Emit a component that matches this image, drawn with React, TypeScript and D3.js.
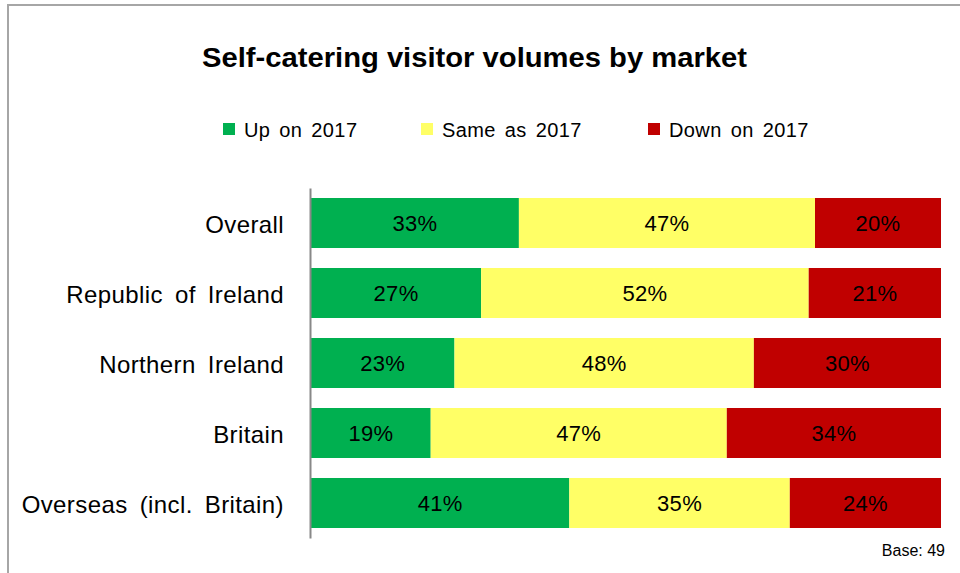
import React, { useRef, useEffect } from 'react';
import * as d3 from 'd3';

const categories = ['Overall', 'Republic of Ireland', 'Northern Ireland', 'Britain', 'Overseas (incl. Britain)'];
const seriesNames = ['Up on 2017', 'Same as 2017', 'Down on 2017'];
const upValues = [33, 27, 23, 19, 41];
const sameValues = [47, 52, 48, 47, 35];
const downValues = [20, 21, 30, 34, 24];
const colors = ['#00B050', '#FFFF66', '#C00000'];

const W = 960;
const H = 573;
const font = '"Liberation Sans", Arial, sans-serif';

const App = () => {
  const ref = useRef<SVGSVGElement>(null);

  useEffect(() => {
    const svg = d3.select(ref.current);
    svg.selectAll('*').remove();

    const keys = ['up', 'same', 'down'];
    const rows = categories.map((c, i) => ({ cat: c, up: upValues[i], same: sameValues[i], down: downValues[i] }));
    const stacked = d3.stack<any>().keys(keys).offset(d3.stackOffsetExpand)(rows);

    const x = d3.scaleLinear().domain([0, 1]).range([311, 941]);
    const y = d3.scaleBand().domain(categories).range([188, 538]).paddingInner(0.2857).paddingOuter(0.1429);

    // frame
    svg.append('rect')
      .attr('x', 8).attr('y', 5).attr('width', W + 20).attr('height', H + 20)
      .attr('fill', '#fff').attr('stroke', '#a6a6a6').attr('stroke-width', 2);

    svg.append('text')
      .attr('x', 202).attr('y', 67)
      .attr('font-family', font).attr('font-weight', 'bold').attr('font-size', 28)
      .attr('textLength', 545).attr('lengthAdjust', 'spacingAndGlyphs')
      .text('Self-catering visitor volumes by market');

    // legend
    const legendX = [223, 421, 648];
    seriesNames.forEach((name, i) => {
      svg.append('rect')
        .attr('x', legendX[i]).attr('y', 123).attr('width', 12).attr('height', 12)
        .attr('fill', colors[i]);
      svg.append('text')
        .attr('x', legendX[i] + 21).attr('y', 137)
        .attr('font-family', font).attr('font-size', 20)
        .attr('word-spacing', 3).attr('letter-spacing', 0.4)
        .text(name);
    });

    const groups = svg.selectAll('g.series')
      .data(stacked)
      .enter().append('g')
      .attr('fill', (d, i) => colors[i]);

    groups.selectAll('rect')
      .data(d => d)
      .enter().append('rect')
      .attr('x', d => x(d[0]))
      .attr('y', d => y(d.data.cat)!)
      .attr('width', d => x(d[1]) - x(d[0]))
      .attr('height', y.bandwidth());

    stacked.forEach((s) => {
      svg.selectAll(null)
        .data(s)
        .enter().append('text')
        .attr('x', d => (x(d[0]) + x(d[1])) / 2)
        .attr('y', d => y(d.data.cat)! + y.bandwidth() / 2)
        .attr('dy', '0.38em')
        .attr('text-anchor', 'middle')
        .attr('font-family', font).attr('font-size', 22)
        .attr('letter-spacing', 0.3)
        .attr('fill', '#000')
        .text(d => `${d.data[s.key]}%`);
    });

    // category axis
    const axis = svg.append('g')
      .attr('transform', 'translate(310,0)')
      .call(d3.axisLeft(y).tickSize(0).tickPadding(26));
    axis.select('.domain').attr('stroke', '#888').attr('stroke-width', 2);
    axis.selectAll('text')
      .attr('font-family', font).attr('font-size', 24).attr('fill', '#000')
      .attr('word-spacing', 5).attr('letter-spacing', 0.4).attr('dy', '0.4em');

    svg.append('text')
      .attr('x', 945).attr('y', 556)
      .attr('text-anchor', 'end')
      .attr('font-family', font).attr('font-size', 16)
      .text('Base: 49');
  }, []);

  return (
    <svg ref={ref} width={W} height={H} style={{ position: 'absolute', left: 0, top: 0 }} />
  );
};

export default App;
